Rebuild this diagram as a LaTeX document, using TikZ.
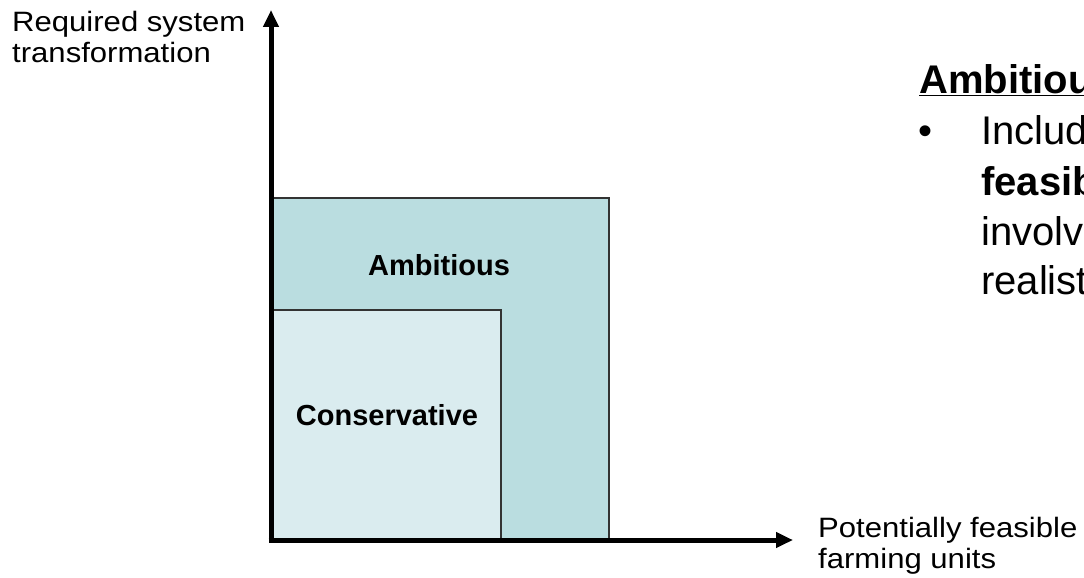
\documentclass[tikz,border=0pt]{standalone}
\usepackage{graphicx}
\usepackage{fontspec}
\setmainfont{Liberation Sans}
\usetikzlibrary{arrows.meta}
\definecolor{ambfill}{HTML}{BADDE0}
\definecolor{consfill}{HTML}{DAECEF}
\definecolor{boxline}{HTML}{333333}
\newcommand{\wide}[1]{\scalebox{1.11}[1]{#1}}
\begin{document}
\begin{tikzpicture}[x=1pt,y=-1pt,
  axis/.style={line width=5pt,-{Triangle[length=17pt,width=15pt]}},
  region/.style={draw=boxline,line width=1.2pt},
  lbl/.style={inner sep=0pt,anchor=base west,font=\fontsize{28}{30}\selectfont},
  boxlbl/.style={inner sep=0pt,anchor=base,font=\fontsize{29}{31}\selectfont\bfseries},
  body/.style={inner sep=0pt,anchor=base west,font=\fontsize{40}{44}\selectfont},
  bodybf/.style={body,font=\fontsize{40}{44}\selectfont\bfseries}]
\useasboundingbox (0,0) rectangle (1084,578);
\clip (0,0) rectangle (1084,578);
% regions
\draw[region,fill=ambfill] (271,198) rectangle (609,540);
\draw[region,fill=consfill] (271,310) rectangle (501,540);
\node[boxlbl] (amb) at (439,275) {Ambitious};
\node[boxlbl] (cons) at (387,425) {Conservative};
% axes
\coordinate (o) at (271,540);
\coordinate (ytop) at (271,10);
\coordinate (xend) at (793,540);
\draw[axis] ([yshift=2.5pt]o) -- (ytop);
\draw[axis] ([xshift=-2.5pt]o) -- (xend);
% axis labels
\node[lbl] (ylab1) at (12,32) {\wide{Required system}};
\node[lbl] (ylab2) at (12,63) {\wide{transformation}};
\node[lbl] (xlab1) at (818,537) {\wide{Potentially feasible}};
\node[lbl] (xlab2) at (818,568) {\wide{farming units}};
% right-side text (cut off at the right edge, as in the reference)
\node[bodybf] (rt) at (919,93) {\underline{Ambitiou}};
\node[body] (bul) at (918,144) {\textbullet};
\node[body] (l1) at (981,144) {Includ};
\node[bodybf] (l2) at (981,195) {feasib};
\node[body] (l3) at (981,245) {involv};
\node[body] (l4) at (981,294) {realist};
\end{tikzpicture}
\end{document}
